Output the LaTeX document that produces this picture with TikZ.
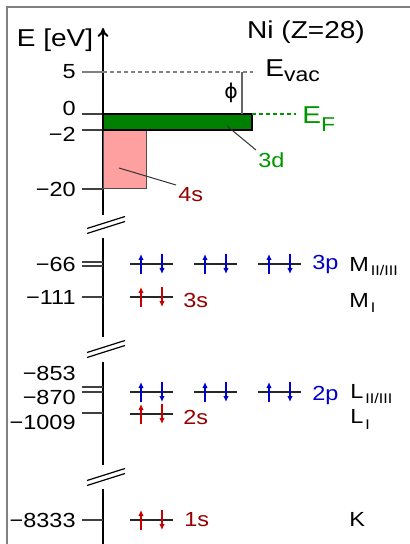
\documentclass[tikz,border=0pt]{standalone}
\usepackage{fontspec}
\setmainfont{Liberation Sans}[FakeStretch=1.15]
\newfontfamily\symfont{DejaVu Sans}
\usetikzlibrary{arrows.meta}
\definecolor{bargreen}{RGB}{0,128,0}
\definecolor{labgreen}{RGB}{0,150,0}
\definecolor{darkred}{RGB}{150,0,0}
\definecolor{spinred}{RGB}{200,0,0}
\definecolor{spinblue}{RGB}{0,0,200}
\definecolor{pinkfill}{RGB}{255,160,160}
% lowered subscript: size, drop, text
\newcommand\lowsub[3]{\raisebox{-#2}{\fontsize{#1}{#1}\selectfont #3}}
\begin{document}
\begin{tikzpicture}[x=0.5pt, y=-0.5pt,
    tick/.style={black!75, line width=0.6pt},
    ticklbl/.style={anchor=east, inner sep=0pt, font=\fontsize{10.2}{12}\selectfont},
    big/.style={inner sep=0pt, font=\fontsize{12.2}{14}\selectfont},
    lbl/.style={inner sep=0pt, font=\fontsize{10.2}{12}\selectfont},
    level/.style={black!85, line width=0.6pt},
    spin/.style={line width=0.65pt, -{Latex[length=3pt,width=2.8pt]}},
    ptr/.style={black!80, line width=0.5pt}
  ]
    \useasboundingbox (0,0) rectangle (410,544);
    \draw[black!50, line width=0.85pt] (7,544) -- (7,7) -- (410,7);
    % energy axis with breaks
    \draw[line width=1pt] (103,544) -- (103,489) (103,465) -- (103,362) (103,337) -- (103,238);
    \draw[line width=1pt, -{To[length=4.5pt,width=5.5pt]}] (103,215) -- (103,28);
    \foreach \y in {225,349,477}
      \draw[line width=0.6pt] (87,\y+3.5) -- (125,\y-8.5) (87,\y+8.5) -- (125,\y-3.5);
    \foreach \y in {114,130,189,262,266,297,387,392,413,520}
      \draw[tick] (82,\y) -- (103,\y);
    \draw[black!50, line width=0.6pt] (82,72) -- (103,72);
    \draw[black!50, line width=0.6pt, dash pattern=on 2pt off 1.5pt] (103,72) -- (253,72);
    \node[ticklbl] (t5) at (76,72) {5};
    \node[ticklbl] (t0) at (76,108) {0};
    \node[ticklbl] (tm2) at (76,134) {−2};
    \node[ticklbl] (tm20) at (76,189) {−20};
    \node[ticklbl] (tm66) at (76,264) {−66};
    \node[ticklbl] (tm111) at (76,297) {−111};
    \node[ticklbl] (tm853) at (76,373) {−853};
    \node[ticklbl] (tm870) at (76,397) {−870};
    \node[ticklbl] (tm1009) at (76,422) {−1009};
    \node[ticklbl] (tm8333) at (76,520) {−8333};
    \node[big, anchor=base] (ylabel) at (55,47) {E [eV]};
    \node[big, anchor=base] (title) at (306,39) {Ni (Z=28)};
    % valence bands
    \draw[fill=pinkfill, draw=black!70, line width=0.5pt] (103,130) rectangle (146,189);
    \draw[fill=bargreen, draw=black, line width=0.6pt] (103,114) rectangle (252,130);
    \draw[labgreen, line width=0.6pt, dash pattern=on 2pt off 1.5pt] (252,114) -- (296,114);
    \draw[black!60, line width=0.6pt] (242,72) -- (242,114);
    \node[lbl] (phi) at (231,93) {\symfont ϕ};
    \node[big, anchor=base west] (evac) at (265,77) {E\lowsub{10}{2.5pt}{vac}};
    \node[big, anchor=base west, text=labgreen] (ef) at (302,124) {E\lowsub{10}{4pt}{F}};
    \node[lbl, anchor=north west, inner sep=1pt, text=labgreen] (lab3d) at (256,150) {3d};
    \node[lbl, anchor=north west, inner sep=1pt, text=darkred] (lab4s) at (176,185) {4s};
    \coordinate (p3d) at (227,126);
    \coordinate (p4s) at (119,168);
    \draw[ptr] (p3d) -- (lab3d.north west);
    \draw[ptr] (p4s) -- (lab4s.north west);
    % core levels
    \foreach \x in {130,194,258} {
      \draw[level] (\x,264) -- (\x+43,264);
      \draw[spin, spinblue] (\x+11,274) -- (\x+11,254);
      \draw[spin, spinblue] (\x+32,254) -- (\x+32,274);
      \draw[level] (\x,392) -- (\x+43,392);
      \draw[spin, spinblue] (\x+11,402) -- (\x+11,382);
      \draw[spin, spinblue] (\x+32,382) -- (\x+32,402);
    }
    \foreach \y in {297,414,520} {
      \draw[level] (130,\y) -- (173,\y);
      \draw[spin, spinred] (141,\y+10) -- (141,\y-10);
      \draw[spin, spinred] (162,\y-10) -- (162,\y+10);
    }
    \node[lbl, anchor=base west, text=spinblue] (l3p) at (312,270) {3p};
    \node[lbl, anchor=base west, text=darkred] (l3s) at (183,307) {3s};
    \node[lbl, anchor=base west, text=spinblue] (l2p) at (312,400) {2p};
    \node[lbl, anchor=base west, text=darkred] (l2s) at (183,424) {2s};
    \node[lbl, anchor=base west, text=darkred] (l1s) at (184,526) {1s};
    \node[lbl, anchor=base west] (sM23) at (349,271) {M\kern1pt\lowsub{7}{2.2pt}{II/III}};
    \node[lbl, anchor=base west] (sM1) at (349,307) {M\kern1pt\lowsub{7}{2.5pt}{I}};
    \node[lbl, anchor=base west] (sL23) at (350,398) {L\kern1pt\lowsub{7}{2.5pt}{II/III}};
    \node[lbl, anchor=base west] (sL1) at (350,423) {L\kern1pt\lowsub{7}{3pt}{I}};
    \node[lbl, anchor=base west] (sK) at (349,526) {K};
\end{tikzpicture}
\end{document}
